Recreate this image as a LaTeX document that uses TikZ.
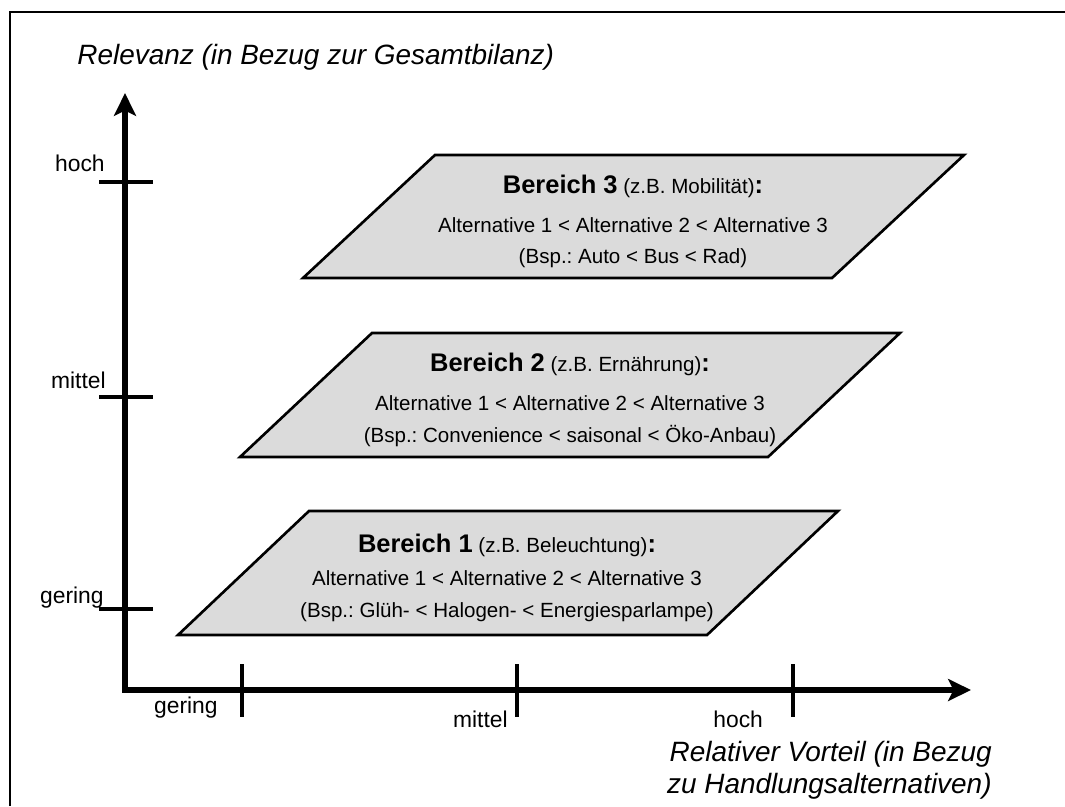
\documentclass[tikz,border=0pt]{standalone}
\usepackage{fontspec}
\setmainfont{Liberation Sans}
\usetikzlibrary{arrows.meta}
\definecolor{feldgrau}{gray}{0.86}
\frenchspacing

\begin{document}
\begin{tikzpicture}[x=0.02cm,y=-0.02cm,
    achse/.style={line width=3.4pt,{Stealth[length=13pt,width=12.5pt,inset=3pt]}-{Stealth[length=13pt,width=12.5pt,inset=3pt]}},
    strich/.style={line width=1.9pt},
    feld/.style={draw,fill=feldgrau,line width=1.5pt},
    titel/.style={font=\fontsize{15.9}{19}\selectfont\itshape,inner sep=0pt},
    skala/.style={font=\fontsize{13}{15}\selectfont,inner sep=0pt},
    zeile/.style={font=\fontsize{11.7}{14}\selectfont,inner sep=0pt,anchor=base}]
    \useasboundingbox (0,0) rectangle (1065,806);
    \draw[line width=1.3pt] (10,806) -- (10,12) -- (1065,12);
    \newcommand{\fett}[1]{{\bfseries\fontsize{14.5}{17}\selectfont #1}}
    % Achsen
    \coordinate (O) at (125,690);
    \coordinate (ytip) at (125,93);
    \coordinate (xtip) at (971,690);
    \draw[achse] (ytip) -- (O) -- (xtip);
    \draw[strich] (99,182) -- (153,182);
    \draw[strich] (99,397) -- (153,397);
    \draw[strich] (99,609) -- (153,609);
    \draw[strich] (242,664) -- (242,717);
    \draw[strich] (517,664) -- (517,717);
    \draw[strich] (793,664) -- (793,717);
    \node[titel,anchor=base west] (ytitel) at (77,64) {Relevanz (in Bezug zur Gesamtbilanz)};
    \node[titel,anchor=base east] (xtitel) at (992,761) {Relativer Vorteil (in Bezug};
    \node[titel,anchor=base east] (xtitelb) at (992,793) {zu Handlungsalternativen)};
    \node[skala,anchor=base east] (yhoch) at (105,171) {hoch};
    \node[skala,anchor=base east] (ymittel) at (106,388) {mittel};
    \node[skala,anchor=base east] (ygering) at (104,603) {gering};
    \node[skala,anchor=base east] (xgering) at (218,713) {gering};
    \node[skala,anchor=base east] (xmittel) at (508,727) {mittel};
    \node[skala,anchor=base west] (xhoch) at (713,727) {hoch};
    % Bereiche
    \draw[feld] (303,278) -- (832,278) -- (964,155) -- (435,155) -- cycle;
    \draw[feld] (240,457) -- (768,457) -- (900,333) -- (372,333) -- cycle;
    \draw[feld] (178,635) -- (707,635) -- (838,511) -- (309,511) -- cycle;
    \node[zeile] (b3kopf) at (633,193) {\fett{Bereich 3} (z.B. Mobilität)\fett{:}};
    \node[zeile] (b3alt) at (633,232) {Alternative 1 < Alternative 2 < Alternative 3};
    \node[zeile] (b3bsp) at (633,263) {(Bsp.: Auto < Bus < Rad)};
    \node[zeile] (b2kopf) at (570,371) {\fett{Bereich 2} (z.B. Ernährung)\fett{:}};
    \node[zeile] (b2alt) at (570,410) {Alternative 1 < Alternative 2 < Alternative 3};
    \node[zeile] (b2bsp) at (570,442) {(Bsp.: Convenience < saisonal < Öko-Anbau)};
    \node[zeile] (b1kopf) at (507,552) {\fett{Bereich 1} (z.B. Beleuchtung)\fett{:}};
    \node[zeile] (b1alt) at (507,585) {Alternative 1 < Alternative 2 < Alternative 3};
    \node[zeile] (b1bsp) at (507,617) {(Bsp.: Glüh- < Halogen- < Energiesparlampe)};
\end{tikzpicture}
\end{document}
